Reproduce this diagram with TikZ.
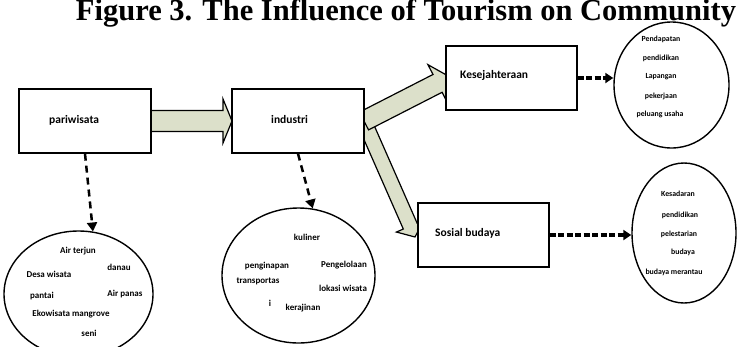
\documentclass[tikz,border=0pt]{standalone}
\usepackage{fontspec}
\setmainfont{Liberation Serif}
\newfontfamily\carl{Carlito}
\usetikzlibrary{shapes.geometric,arrows.meta,calc}
\definecolor{fatgreen}{RGB}{220,224,202}
\newcommand\fatarr[5]{%
  \path (#1); \pgfgetlastxy{\fxa}{\fya}%
  \path (#2); \pgfgetlastxy{\fxb}{\fyb}%
  \pgfmathsetmacro\fang{atan2(\fyb-\fya,\fxb-\fxa)}%
  \pgfmathsetmacro\flen{veclen(\fxb-\fxa,\fyb-\fya)}%
  \pgfmathsetmacro\fbase{\flen-#5}%
  \pgfmathsetmacro\fw{#3/2}%
  \pgfmathsetmacro\fH{#4/2}%
  \begin{scope}[shift={(\fxa,\fya)},rotate=\fang]
    \filldraw[fatstyle] (0pt,-\fw pt) -- (\fbase pt,-\fw pt) -- (\fbase pt,-\fH pt)
      -- (\flen pt,0pt) -- (\fbase pt,\fH pt) -- (\fbase pt,\fw pt) -- (0pt,\fw pt) -- cycle;
  \end{scope}}
\tikzset{
  fatstyle/.style={fill=fatgreen,draw=black,line width=1.2pt,line join=miter},
  boxnode/.style={draw,line width=1.4pt,fill=white,minimum width=132pt,minimum height=64pt,inner sep=0pt},
  ellnode/.style={ellipse,draw,line width=1.4pt,inner sep=0pt},
  boxlab/.style={font=\carl\bfseries\fontsize{11.5}{13}\selectfont,inner sep=0pt,anchor=west},
  smalltxt/.style={font=\carl\bfseries\fontsize{7.8}{9}\selectfont,inner sep=0pt},
  midtxt/.style={font=\carl\bfseries\fontsize{9}{10}\selectfont,inner sep=0pt},
  dsharrow/.style={line width=3.2pt,dash pattern=on 6pt off 2.5pt,-{Triangle[length=8pt,width=10pt]}},
  dsharrowv/.style={line width=2.5pt,dash pattern=on 7pt off 5pt,-{Triangle[length=9pt,width=10pt]}},
}
\begin{document}
\begin{tikzpicture}[x=1pt,y=-1pt]
\clip (0,0) rectangle (738,346);
\useasboundingbox (0,0) rectangle (738,346);
% title
\node[font=\bfseries\fontsize{30.5}{34}\selectfont,anchor=base,inner sep=0pt] (title) at (406,20) {Figure 3. The Influence of Tourism on Community};
% ellipses
\node[ellnode,minimum width=149pt,minimum height=126pt] (e1) at (78.5,294) {};
\node[ellnode,minimum width=153pt,minimum height=135pt] (e2) at (298.5,275.5) {};
\node[ellnode,minimum width=115pt,minimum height=126pt] (e3) at (671.5,85) {};
\node[ellnode,minimum width=104pt,minimum height=140pt] (e4) at (684,233) {};
% coordinates for fat arrows
\coordinate (a1s) at (151,121);
\coordinate (a1t) at (232,121);
\coordinate (a2s) at (364,121);
\coordinate (a2t) at (450,77);
\coordinate (a3s) at (364,121);
\coordinate (a3t) at (415,237);
\fatarr{a3s}{a3t}{15}{30}{12}
\fatarr{a2s}{a2t}{20}{42}{14}
\fatarr{a1s}{a1t}{21}{44}{9}
% boxes
\node[boxnode] (par) at (85,121) {};
\node[boxnode] (ind) at (298,121) {};
\node[boxnode,minimum width=131pt] (kes) at (511.5,78) {};
\node[boxnode,minimum width=131pt] (sos) at (483.5,235) {};
\node[boxlab] (lpar) at (49,120) {pariwisata};
\node[boxlab] (lind) at (271,120) {industri};
\node[boxlab] (lkes) at (460,75) {Kesejahteraan};
\node[boxlab] (lsos) at (435,233) {Sosial budaya};
% dashed arrows
\draw[dsharrow] (kes.east) -- (kes.east -| e3.west);
\draw[dsharrow] (sos.east) -- (sos.east -| e4.west);
\draw[dsharrowv] (par.south) -- (e1.77);
\draw[dsharrowv] (ind.south) -- (e2.78);
% ellipse texts
\node[smalltxt] (t31) at (661,39) {Pendapatan};
\node[smalltxt] (t32) at (661,58) {pendidikan};
\node[smalltxt] (t33) at (661,77) {Lapangan};
\node[smalltxt] (t34) at (661,96) {pekerjaan};
\node[smalltxt] (t35) at (660,114) {peluang usaha};
\node[smalltxt] (t41) at (678,194) {Kesadaran};
\node[smalltxt] (t42) at (680,215) {pendidikan};
\node[smalltxt] (t43) at (679,234) {pelestarian};
\node[smalltxt] (t44) at (683,252) {budaya};
\node[smalltxt] (t45) at (674,272) {budaya merantau};
\node[midtxt] (t11) at (78,251) {Air terjun};
\node[midtxt] (t12) at (119,267) {danau};
\node[midtxt] (t13) at (49,274) {Desa wisata};
\node[midtxt] (t14) at (42,296) {pantai};
\node[midtxt] (t15) at (125,294) {Air panas};
\node[midtxt] (t16) at (71,314) {Ekowisata mangrove};
\node[midtxt] (t17) at (89,333) {seni};
\node[midtxt] (t21) at (307,237) {kuliner};
\node[midtxt] (t22) at (267,266) {penginapan};
\node[midtxt] (t23) at (344,265) {Pengelolaan};
\node[midtxt] (t24) at (258,281) {transportas};
\node[midtxt] (t25) at (343,288) {lokasi wisata};
\node[midtxt] (t26) at (270,303) {i};
\node[midtxt] (t27) at (303,308) {kerajinan};
\end{tikzpicture}
\end{document}
